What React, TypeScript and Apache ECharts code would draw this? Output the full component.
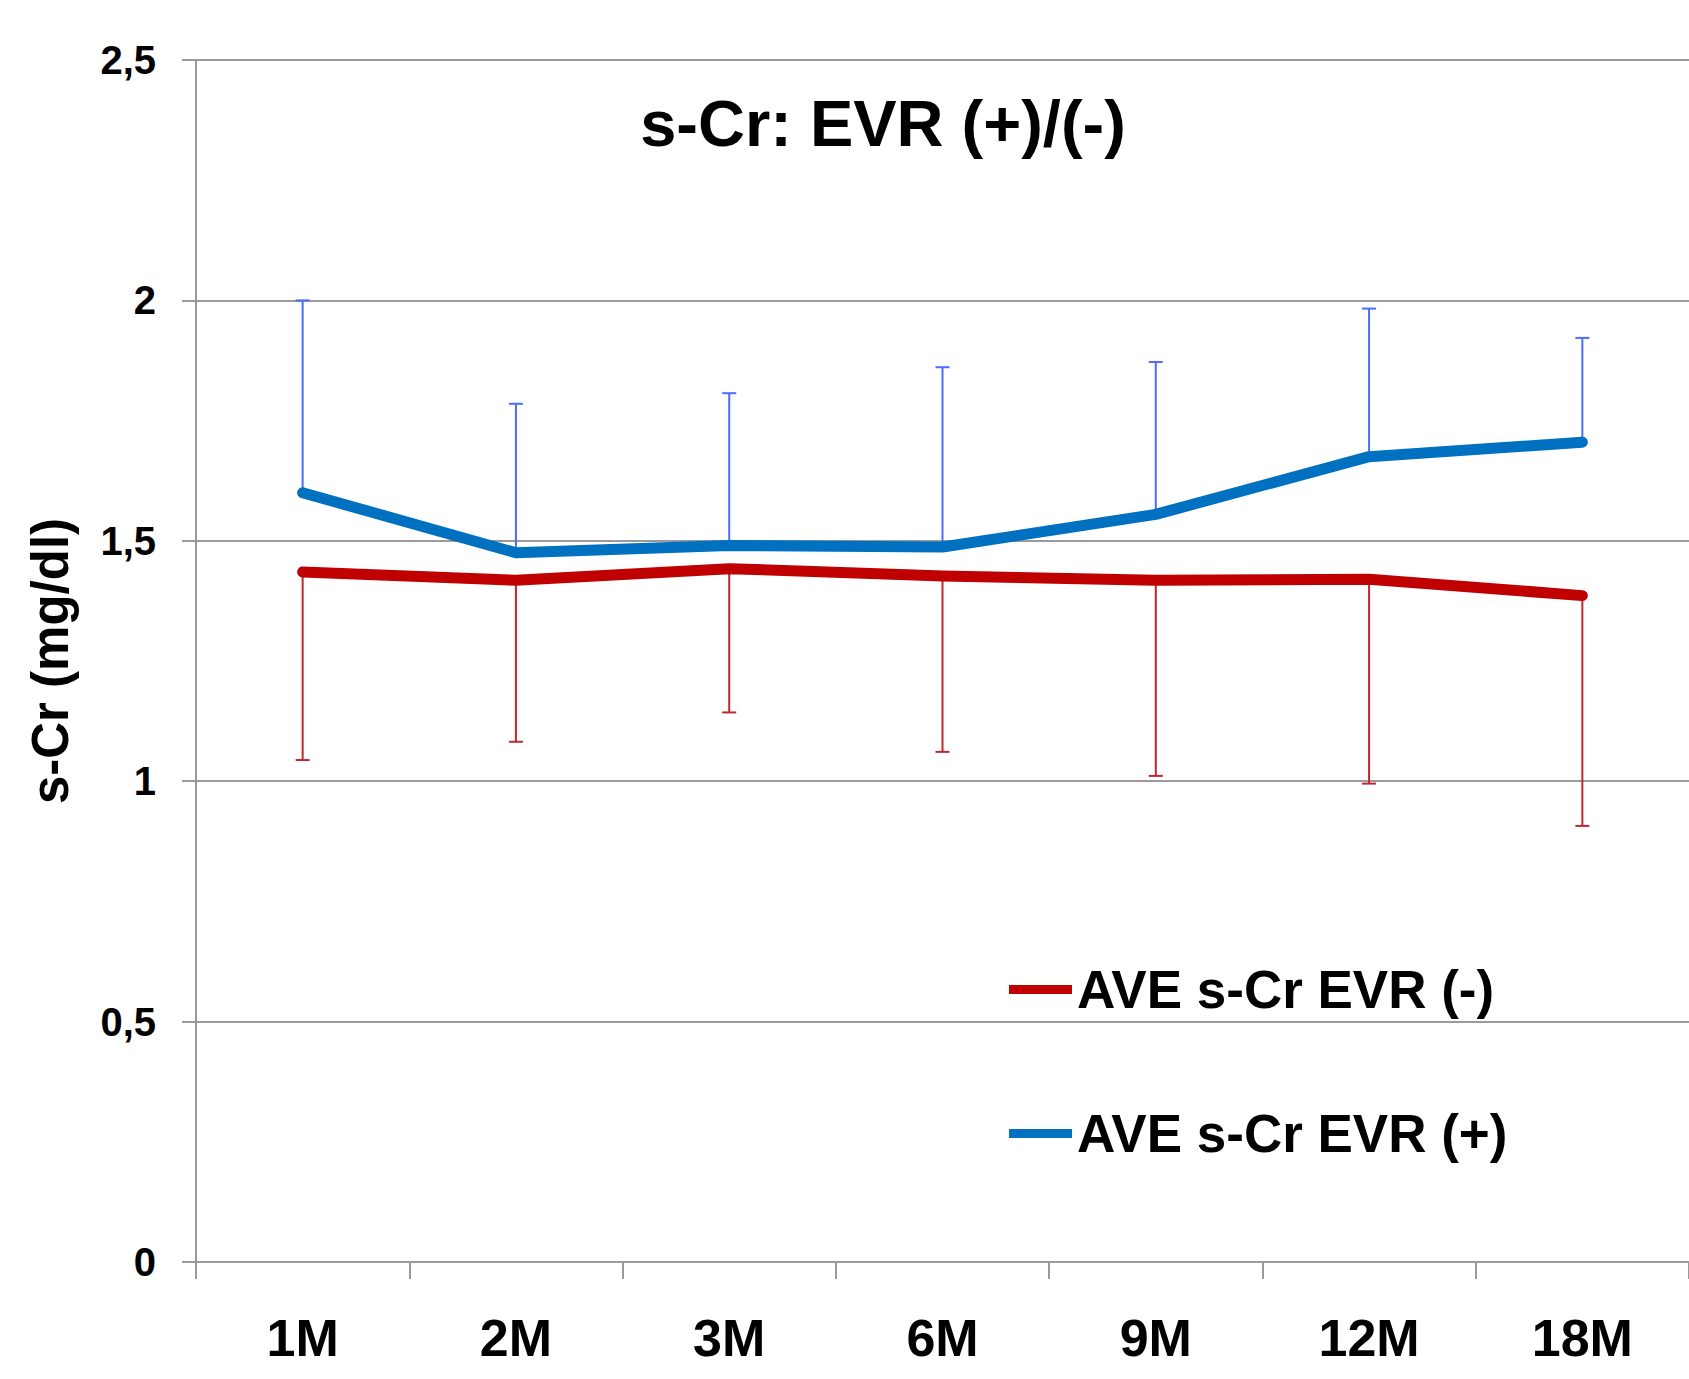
import React, { useEffect, useRef } from "react";
import * as echarts from "echarts";

const categories = ["1M", "2M", "3M", "6M", "9M", "12M", "18M"];
const yTicks = [0, 0.5, 1, 1.5, 2, 2.5];
const evrMinusName = "AVE s-Cr EVR (-)";
const evrPlusName = "AVE s-Cr EVR (+)";
const evrMinusMean = [1.435, 1.418, 1.442, 1.427, 1.418, 1.42, 1.386];
const evrMinusLower = [1.044, 1.082, 1.143, 1.061, 1.011, 0.995, 0.907];
const evrPlusMean = [1.6, 1.475, 1.49, 1.487, 1.555, 1.675, 1.705];
const evrPlusUpper = [2.0, 1.785, 1.807, 1.861, 1.872, 1.983, 1.922];

const FONT = 'Arial, "Liberation Sans", sans-serif';
const RED = "#C00000";
const BLUE = "#0070C0";
const RED_ERR = "#C0282D";
const BLUE_ERR = "#4A6CFF";
const GRID_GRAY = "#9A9A9A";

function errorSeries(name: string, mean: number[], bound: number[], color: string) {
  return {
    type: "custom",
    name: name + " err",
    z: 1,
    silent: true,
    encode: { x: 0, y: [1, 2] },
    data: mean.map((m, i) => [i, m, bound[i]]),
    renderItem: (params: any, api: any) => {
      const p1 = api.coord([api.value(0), api.value(1)]);
      const p2 = api.coord([api.value(0), api.value(2)]);
      const half = 7;
      return {
        type: "group",
        children: [
          {
            type: "line",
            shape: { x1: p1[0], y1: p1[1], x2: p2[0], y2: p2[1] },
            style: { stroke: color, lineWidth: 2 },
          },
          {
            type: "line",
            shape: { x1: p2[0] - half, y1: p2[1], x2: p2[0] + half, y2: p2[1] },
            style: { stroke: color, lineWidth: 2 },
          },
        ],
      };
    },
  };
}

export default function App() {
  const ref = useRef<HTMLDivElement>(null);
  useEffect(() => {
    document.body.style.margin = "0";
    const chart = echarts.init(ref.current!, null, { renderer: "svg" });
    const legendText = { fontSize: 53, fontWeight: "bold", color: "#000", fontFamily: FONT };
    chart.setOption({
      animation: false,
      backgroundColor: "#fff",
      textStyle: { fontFamily: FONT },
      graphic: [
        {
          type: "text",
          x: 883,
          y: 123,
          style: {
            text: "s-Cr: EVR (+)/(-)",
            fontSize: 65,
            fontWeight: "bold",
            fontFamily: FONT,
            fill: "#000",
            align: "center",
            verticalAlign: "middle",
          },
        },
      ],
      legend: [
        {
          data: [evrMinusName],
          left: 1009,
          top: 963,
          padding: 0,
          itemWidth: 63,
          itemHeight: 9,
          icon: "rect",
          textStyle: legendText,
        },
        {
          data: [evrPlusName],
          left: 1009,
          top: 1107,
          padding: 0,
          itemWidth: 63,
          itemHeight: 9,
          icon: "rect",
          textStyle: legendText,
        },
      ],
      grid: { left: 196, right: -3, top: 60, bottom: 117, containLabel: false },
      xAxis: {
        type: "category",
        data: categories,
        boundaryGap: true,
        axisLine: { show: true, lineStyle: { color: GRID_GRAY, width: 2 } },
        axisTick: { show: true, length: 17, lineStyle: { color: GRID_GRAY, width: 2 } },
        axisLabel: {
          margin: 50,
          fontSize: 52,
          fontWeight: "bold",
          color: "#000",
          fontFamily: FONT,
        },
        splitLine: { show: false },
      },
      yAxis: {
        type: "value",
        min: yTicks[0],
        max: yTicks[yTicks.length - 1],
        interval: 0.5,
        name: "s-Cr (mg/dl)",
        nameLocation: "middle",
        nameRotate: 90,
        nameGap: 120,
        nameTextStyle: { fontSize: 51, fontWeight: "bold", color: "#000", fontFamily: FONT },
        axisLine: { show: true, lineStyle: { color: GRID_GRAY, width: 2 } },
        axisTick: { show: true, length: 14, lineStyle: { color: GRID_GRAY, width: 2 } },
        axisLabel: {
          margin: 40,
          fontSize: 40,
          fontWeight: "bold",
          color: "#000",
          fontFamily: FONT,
          formatter: (v: number) => String(v).replace(".", ","),
        },
        splitLine: { show: true, lineStyle: { color: GRID_GRAY, width: 2 } },
      },
      series: [
        errorSeries(evrMinusName, evrMinusMean, evrMinusLower, RED_ERR),
        errorSeries(evrPlusName, evrPlusMean, evrPlusUpper, BLUE_ERR),
        {
          type: "line",
          name: evrMinusName,
          data: evrMinusMean,
          z: 3,
          color: RED,
          showSymbol: false,
          symbol: "circle",
          lineStyle: { color: RED, width: 11, cap: "round", join: "round" },
          itemStyle: { color: RED },
        },
        {
          type: "line",
          name: evrPlusName,
          data: evrPlusMean,
          z: 3,
          color: BLUE,
          showSymbol: false,
          symbol: "circle",
          lineStyle: { color: BLUE, width: 11, cap: "round", join: "round" },
          itemStyle: { color: BLUE },
        },
      ],
    });
    return () => chart.dispose();
  }, []);
  return <div ref={ref} style={{ width: 1689, height: 1379 }} />;
}
